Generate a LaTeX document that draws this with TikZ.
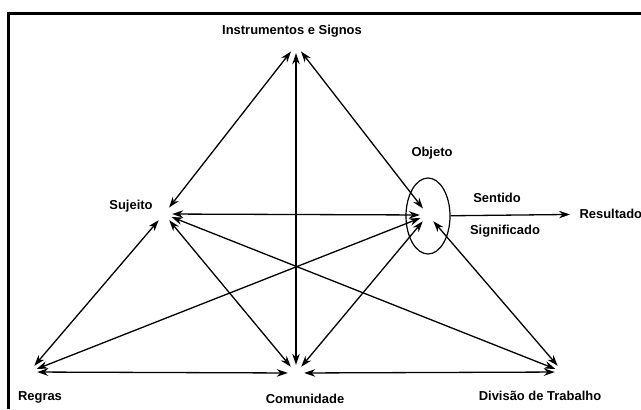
\documentclass[tikz,border=0pt]{standalone}
\usepackage{fontspec}
\setmainfont{Liberation Sans}
\usetikzlibrary{arrows.meta,shapes.geometric}

\begin{document}
\begin{tikzpicture}
  [x=1bp,y=-1bp,auto=center,every node/.style={font=\bfseries\fontsize{13}{15}\selectfont},
   pt/.style={circle,inner sep=0pt,minimum size=16bp},
   link/.style={line width=1.3bp,{Stealth[length=11bp,width=7.5bp]}-{Stealth[length=11bp,width=7.5bp]}}]
  \useasboundingbox (0,0) rectangle (641,409);
  \draw [line width=3bp] (8,409) -- (8,13) -- (641,13);

  \node [pt] (ins) at (296,45) {};
  \node [pt] (suj) at (164,214) {};
  \node [pt] (obj) at (428,215) {};
  \node [pt] (reg) at (29,372) {};
  \node [pt] (com) at (296,373) {};
  \node [pt] (div) at (563,372) {};
  \node [draw,ellipse,line width=1.2bp,minimum width=44bp,minimum height=76bp,inner sep=0pt] (oval) at (428,216) {};

  \node (tins) at (292,31) {Instrumentos e Signos};
  \node (tsuj) at (131,206) {Sujeito};
  \node (tobj) at (432,153) {Objeto};
  \node (tsen) at (497,198) {Sentido};
  \node (tsig) at (505,231) {Significado};
  \node [anchor=west] (res) at (576,214) {Resultado};
  \node (treg) at (40,397) {Regras};
  \node (tcom) at (305,399) {Comunidade};
  \node (tdiv) at (540,396) {Divisão de Trabalho};

  \foreach \from/\to in {ins/suj,ins/com,ins/obj,suj/obj,suj/reg,suj/com,suj/div,obj/reg,obj/com,obj/div,reg/com,com/div}
    \draw [link] (\from) -- (\to);
  \draw [line width=1.3bp,-{Stealth[length=11bp,width=7.5bp]},shorten >=6bp] (oval) -- (res);

\end{tikzpicture}
\end{document}
